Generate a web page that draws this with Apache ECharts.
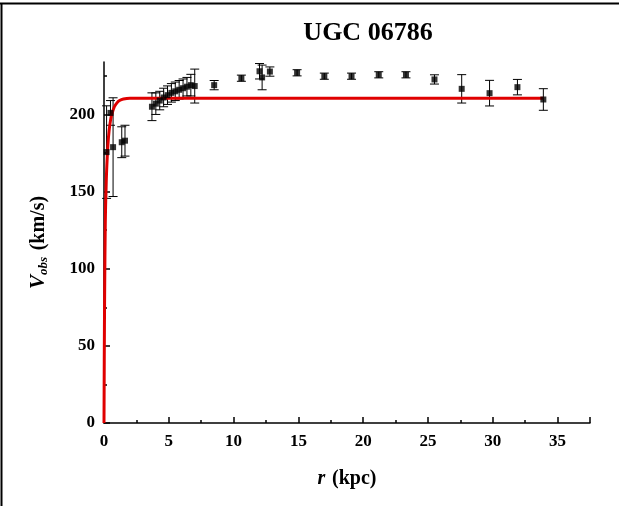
<!DOCTYPE html>
<html><head><meta charset="utf-8">
<script src="https://cdn.jsdelivr.net/npm/echarts@6/dist/echarts.min.js"></script>
<style>html,body{margin:0;padding:0;background:#fff}#c{width:619px;height:506px}</style>
</head><body><div id="c"></div>
<script>
// Observed rotation curve
const obsR   = [0.2, 0.5, 0.7, 1.37, 1.62, 3.7, 4.0, 4.3, 4.6, 4.9, 5.2, 5.5, 5.8, 6.1, 6.4, 6.7, 7.0, 8.5, 10.6, 12.0, 12.2, 12.8, 14.9, 17.0, 19.1, 21.2, 23.3, 25.5, 27.6, 29.75, 31.9, 33.9];
const obsV   = [175.6, 201, 178.8, 182, 183, 205, 207, 209, 211, 212.5, 214, 215, 216, 217, 218, 219, 218.4, 219, 223.5, 228, 224, 227.8, 227, 224.8, 224.8, 225.7, 225.7, 222.7, 216.6, 213.8, 217.7, 209.7];
const obsErr = [30, 8, 32, 10, 10, 9, 7, 6, 6, 6, 6, 6, 6, 6, 6, 7, 11, 3, 2, 5, 8, 3, 2, 2, 2, 2, 2, 3, 9.2, 8.3, 5, 7];
// Model curve
const modelR = [0, 0.02, 0.05, 0.1, 0.15, 0.2, 0.3, 0.4, 0.5, 0.6, 0.8, 1.0, 1.2, 1.5, 2, 3, 5, 10, 20, 33.9];
const modelV = [0, 40, 85, 130, 150, 163, 180, 190, 196, 200, 205, 207.5, 209, 210, 210.5, 210.5, 210.5, 210.5, 210.5, 210.5];
const xTicks = [0, 5, 10, 15, 20, 25, 30, 35];
const yTicks = [0, 50, 100, 150, 200];

const chart = echarts.init(document.getElementById('c'));
const serif = '"Liberation Serif","Times New Roman",serif';
const points = obsR.map((r, i) => [r, obsV[i]]);
const errs = obsR.map((r, i) => [r, obsV[i] - obsErr[i], obsV[i] + obsErr[i]]);
const model = modelR.map((r, i) => [r, modelV[i]]);

chart.setOption({
  animation: false,
  backgroundColor: '#fff',
  title: {
    text: 'UGC 06786', left: 363, top: 15, textAlign: 'center',
    textStyle: { fontFamily: serif, fontWeight: 'bold', fontSize: 26, color: '#000' }
  },
  grid: { left: 104, right: 29, top: 62, bottom: 83 },
  xAxis: {
    type: 'value', min: 0, max: 37.5, interval: 5,
    name: '{i|r}  {b|(kpc)}', nameLocation: 'middle', nameGap: 46,
    nameTextStyle: { rich: {
      i: { fontFamily: serif, fontStyle: 'italic', fontWeight: 'bold', fontSize: 20, color: '#000' },
      b: { fontFamily: serif, fontWeight: 'bold', fontSize: 20, color: '#000' } } },
    axisLine: { lineStyle: { color: '#000', width: 1.5 } },
    axisTick: { inside: true, length: 6, lineStyle: { color: '#000', width: 1.5 } },
    minorTick: { show: true, splitNumber: 2, length: 3, lineStyle: { color: '#000', width: 1.5 } },
    splitLine: { show: false },
    axisLabel: { fontFamily: serif, fontWeight: 'bold', fontSize: 17, color: '#000', margin: 10,
      formatter: v => xTicks.includes(v) ? String(v) : '' }
  },
  yAxis: {
    type: 'value', min: 0, max: 234, interval: 50,
    name: '{v|V}{s|obs}  {b|(km/s)}', nameLocation: 'middle', nameGap: 54, nameRotate: 90,
    nameTextStyle: { rich: {
      v: { fontFamily: serif, fontStyle: 'italic', fontWeight: 'bold', fontSize: 21, color: '#000' },
      s: { fontFamily: serif, fontStyle: 'italic', fontWeight: 'bold', fontSize: 13, color: '#000', verticalAlign: 'bottom', padding: [10, 0, 0, 0] },
      b: { fontFamily: serif, fontWeight: 'bold', fontSize: 20, color: '#000' } } },
    axisLine: { show: true, lineStyle: { color: '#000', width: 1.5 } },
    axisTick: { show: true, inside: true, length: 6, customValues: yTicks, lineStyle: { color: '#000', width: 1.5 } },
    minorTick: { show: true, splitNumber: 2, length: 3, lineStyle: { color: '#000', width: 1.5 } },
    splitLine: { show: false },
    axisLabel: { fontFamily: serif, fontWeight: 'bold', fontSize: 17, color: '#000', margin: 9,
      formatter: v => yTicks.includes(v) ? String(v) : '' }
  },
  graphic: [
    { type: 'line', shape: { x1: 0, y1: 3.5, x2: 619, y2: 3.5 }, style: { stroke: '#000', lineWidth: 2 } },
    { type: 'line', shape: { x1: 1.5, y1: 3, x2: 1.5, y2: 506 }, style: { stroke: '#000', lineWidth: 2 } }
  ],
  series: [
    {
      type: 'custom', name: 'err', data: errs, z: 2,
      renderItem: (params, api) => {
        const x = api.value(0);
        const lo = api.coord([x, api.value(1)]);
        const hi = api.coord([x, api.value(2)]);
        const w = 4.5;
        const st = { stroke: '#000', lineWidth: 1 };
        return { type: 'group', children: [
          { type: 'line', shape: { x1: lo[0], y1: lo[1], x2: hi[0], y2: hi[1] }, style: st },
          { type: 'line', shape: { x1: lo[0] - w, y1: lo[1], x2: lo[0] + w, y2: lo[1] }, style: st },
          { type: 'line', shape: { x1: hi[0] - w, y1: hi[1], x2: hi[0] + w, y2: hi[1] }, style: st }
        ] };
      }
    },
    {
      type: 'line', name: 'model', data: model, smooth: 0.3, showSymbol: false, z: 3,
      lineStyle: { color: '#e00000', width: 3 }
    },
    {
      type: 'scatter', name: 'obs', data: points, symbol: 'rect', symbolSize: 6, z: 4,
      itemStyle: { color: '#000' }
    }
  ]
});
</script></body></html>
